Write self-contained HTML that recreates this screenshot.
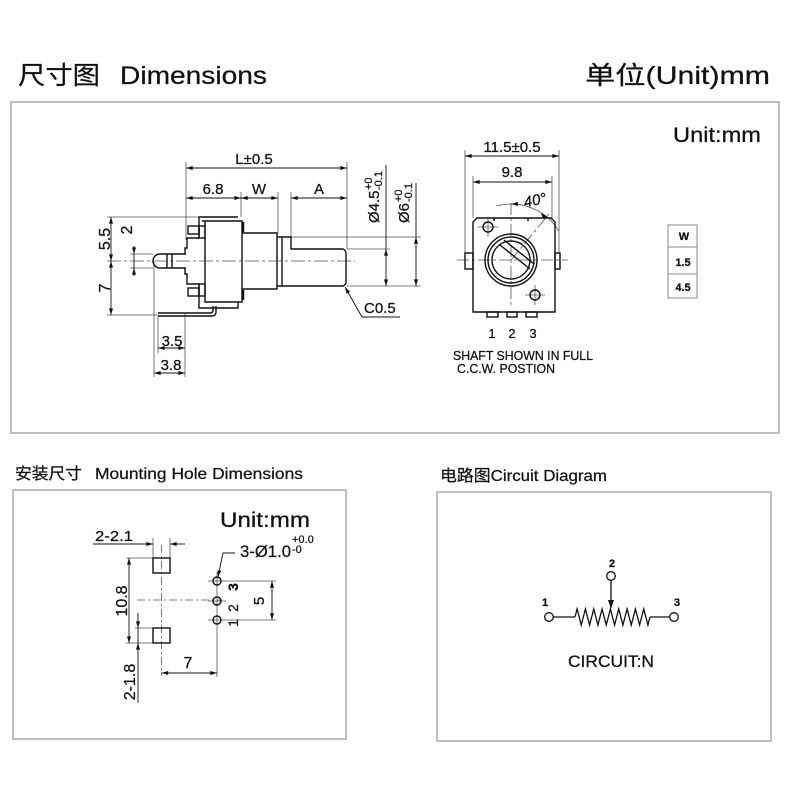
<!DOCTYPE html>
<html><head><meta charset="utf-8">
<style>
html,body{margin:0;padding:0;background:#fff;}
svg{display:block;}
text{font-family:"Liberation Sans","Noto Sans CJK SC",sans-serif;fill:#111;stroke:#111;stroke-width:0.25;}
</style></head><body>
<svg width="790" height="793" viewBox="0 0 790 793" xmlns="http://www.w3.org/2000/svg">
<defs>
<marker id="a" viewBox="0 0 10 6" refX="10" refY="3" markerWidth="7" markerHeight="4" markerUnits="userSpaceOnUse" orient="auto-start-reverse"><path d="M0,0 L10,3 L0,6 Z" fill="#111"/></marker>
</defs>

<!-- Header -->
<text x="18" y="84" font-size="25" textLength="82" lengthAdjust="spacingAndGlyphs">尺寸图</text>
<text x="120" y="84" font-size="25" textLength="147" lengthAdjust="spacingAndGlyphs">Dimensions</text>
<text x="585" y="84" font-size="25" textLength="185" lengthAdjust="spacingAndGlyphs">单位(Unit)mm</text>

<!-- Top panel -->
<rect x="11" y="102" width="768" height="331" fill="none" stroke="#aaa" stroke-width="1.5"/>
<text x="673" y="142" font-size="21" textLength="88" lengthAdjust="spacingAndGlyphs">Unit:mm</text>

<!-- Table -->
<g fill="none" stroke="#888" stroke-width="1">
<rect x="668" y="225" width="29" height="73"/>
<line x1="668" y1="247" x2="697" y2="247"/>
<line x1="668" y1="274" x2="697" y2="274"/>
</g>
<text x="684" y="240" font-size="11" font-weight="bold" text-anchor="middle">W</text>
<text x="683" y="266" font-size="11" font-weight="bold" text-anchor="middle">1.5</text>
<text x="683" y="291" font-size="11" font-weight="bold" text-anchor="middle">4.5</text>

<!-- Left side view: extension lines -->
<g stroke="#555" stroke-width="0.8" fill="none">
<line x1="186" y1="162" x2="186" y2="240"/>
<line x1="241" y1="192" x2="241" y2="217"/>
<line x1="278" y1="192" x2="278" y2="233"/>
<line x1="291" y1="192" x2="291" y2="237"/>
<line x1="347" y1="162" x2="347" y2="249"/>
<line x1="291" y1="237" x2="421" y2="237"/>
<line x1="347" y1="249" x2="390" y2="249"/>
<line x1="347" y1="286" x2="421" y2="286"/>
<line x1="107" y1="217" x2="199" y2="217"/>
<line x1="107" y1="315" x2="158" y2="315"/>
<line x1="130" y1="254" x2="153" y2="254"/>
<line x1="130" y1="268" x2="153" y2="268"/>
<line x1="154" y1="262" x2="154" y2="377"/>
<line x1="158" y1="316" x2="158" y2="353"/>
<line x1="185" y1="313" x2="185" y2="377"/>
<line x1="107" y1="261" x2="355" y2="261" stroke-dasharray="14 3 3 3"/>
</g>

<!-- Left side view: dimension lines -->
<g stroke="#111" stroke-width="0.9" fill="none">
<line x1="186" y1="168" x2="347" y2="168" marker-start="url(#a)" marker-end="url(#a)"/>
<line x1="186" y1="198" x2="241" y2="198" marker-start="url(#a)" marker-end="url(#a)"/>
<line x1="241" y1="198" x2="278" y2="198" marker-start="url(#a)" marker-end="url(#a)"/>
<line x1="291" y1="198" x2="347" y2="198" marker-start="url(#a)" marker-end="url(#a)"/>
<line x1="386" y1="165" x2="386" y2="249"/>
<line x1="386" y1="249" x2="386" y2="286" marker-start="url(#a)" marker-end="url(#a)"/>
<line x1="416" y1="183" x2="416" y2="237"/>
<line x1="416" y1="237" x2="416" y2="286" marker-start="url(#a)" marker-end="url(#a)"/>
<line x1="111" y1="217" x2="111" y2="261" marker-start="url(#a)" marker-end="url(#a)"/>
<line x1="111" y1="261" x2="111" y2="315" marker-start="url(#a)" marker-end="url(#a)"/>
<line x1="134" y1="246" x2="134" y2="254" marker-end="url(#a)"/>
<line x1="134" y1="254" x2="134" y2="268"/>
<line x1="134" y1="276" x2="134" y2="268" marker-end="url(#a)"/>
<line x1="158" y1="348" x2="185" y2="348" marker-start="url(#a)" marker-end="url(#a)"/>
<line x1="154" y1="373" x2="185" y2="373" marker-start="url(#a)" marker-end="url(#a)"/>
<polyline points="400,317 362,317 345,287" marker-end="url(#a)"/>
</g>

<!-- Left side view: dimension text -->
<text x="254" y="164" font-size="15" text-anchor="middle">L±0.5</text>
<text x="213" y="194" font-size="15" text-anchor="middle">6.8</text>
<text x="259" y="194" font-size="15" text-anchor="middle">W</text>
<text x="319" y="194" font-size="15" text-anchor="middle">A</text>
<text x="364" y="313" font-size="15">C0.5</text>
<text transform="translate(110,239) rotate(-90)" font-size="16" text-anchor="middle">5.5</text>
<text transform="translate(132,230) rotate(-90)" font-size="16" text-anchor="middle">2</text>
<text transform="translate(110,288) rotate(-90)" font-size="16" text-anchor="middle">7</text>
<text x="172" y="346" font-size="15" text-anchor="middle">3.5</text>
<text x="171" y="370" font-size="15" text-anchor="middle">3.8</text>
<g transform="translate(379,223) rotate(-90)">
<text x="0" y="0" font-size="15">Ø4.5</text>
<text x="33" y="-7" font-size="11">+0</text>
<text x="33" y="3" font-size="11">-0.1</text>
</g>
<g transform="translate(409,223) rotate(-90)">
<text x="0" y="0" font-size="15">Ø6</text>
<text x="21" y="-7" font-size="11">+0</text>
<text x="21" y="3" font-size="11">-0.1</text>
</g>

<!-- Left side view: part outline -->
<g stroke="#111" stroke-width="1.4" fill="none">
<path d="M186,254 H160 A7,7 0 0 0 160,268 H186"/>
<line x1="167" y1="254" x2="167" y2="268"/>
<line x1="172" y1="254" x2="172" y2="268"/>
<path d="M238,217 H199 V238 H187 V248 H185 V254"/>
<path d="M185,268 V274 H187 V284 H199 V308 H238 V302"/>
<rect x="188" y="226" width="11" height="8"/>
<rect x="199" y="226" width="6" height="12"/>
<rect x="188" y="288" width="11" height="8"/>
<rect x="199" y="284" width="6" height="12"/>
<path d="M202,221 H242 V302 H205 V221"/>
<path d="M158,313 H210 Q213,313 213,310 V306"/>
<path d="M158,316 H212 Q216,316 216,312 V306"/>
<path d="M242,233 H277 V289 H242"/>
<path d="M277,237 H291 V249 H343 Q346,250 346,254 V282 Q346,285 343,286 H277"/>
<line x1="282" y1="237" x2="282" y2="286"/>
</g>
<g stroke="#111" stroke-width="2.5">
<line x1="243" y1="222" x2="243" y2="232"/>
<line x1="243" y1="290" x2="243" y2="300"/>
</g>

<!-- Front view -->
<g stroke="#555" stroke-width="0.8" fill="none">
<line x1="465" y1="150" x2="465" y2="253"/>
<line x1="559" y1="150" x2="559" y2="253"/>
<line x1="473" y1="176" x2="473" y2="218"/>
<line x1="552" y1="176" x2="552" y2="218"/>
<line x1="511" y1="203" x2="511" y2="305" stroke-dasharray="12 3 3 3"/>
<line x1="457" y1="260" x2="568" y2="260" stroke-dasharray="12 3 3 3"/>
<line x1="511" y1="260" x2="549" y2="214" stroke-dasharray="12 3 3 3"/>
<path d="M496.5,205.9 A56,56 0 0 1 559,231.2"/>
<line x1="478" y1="227" x2="498" y2="227"/>
<line x1="488" y1="217" x2="488" y2="237"/>
<line x1="525" y1="295" x2="545" y2="295"/>
<line x1="535" y1="285" x2="535" y2="305"/>
</g>
<g stroke="#111" stroke-width="0.9" fill="none">
<line x1="465" y1="156" x2="559" y2="156" marker-start="url(#a)" marker-end="url(#a)"/>
<line x1="473" y1="182" x2="552" y2="182" marker-start="url(#a)" marker-end="url(#a)"/>
</g>
<path d="M548,217 L541,213 L543,219 Z" fill="#111"/>
<path d="M511,204 L518,202 L518,206 Z" fill="#111"/>
<text x="512" y="152" font-size="15" text-anchor="middle">11.5±0.5</text>
<text x="512" y="177" font-size="15" text-anchor="middle">9.8</text>
<text transform="translate(536,205) rotate(-12)" font-size="15" font-style="italic" text-anchor="middle">40°</text>
<g stroke="#111" stroke-width="1.4" fill="none">
<path d="M473,312 V222 L477,218 H551 L555,222 V312 Z"/>
<rect x="465" y="253" width="8" height="16"/>
<rect x="555" y="253" width="5" height="16"/>
<circle cx="511" cy="260" r="26"/>
<circle cx="511" cy="260" r="23"/>
<circle cx="511" cy="260" r="19"/>
<line x1="504" y1="240" x2="534" y2="264"/>
<line x1="500" y1="245" x2="530" y2="269"/>
<circle cx="488" cy="227" r="5"/>
<circle cx="535" cy="295" r="5"/>
<rect x="487" y="312" width="11" height="5"/>
<rect x="507" y="312" width="10" height="5"/>
<rect x="526" y="312" width="11" height="5"/>
</g>
<g stroke="#111" stroke-width="1.5">
<line x1="494" y1="218" x2="494" y2="221"/>
<line x1="528" y1="218" x2="528" y2="221"/>
</g>
<text x="492" y="338" font-size="13" text-anchor="middle">1</text>
<text x="512" y="338" font-size="13" text-anchor="middle">2</text>
<text x="533" y="338" font-size="13" text-anchor="middle">3</text>
<text x="453" y="360" font-size="12.5" textLength="140" lengthAdjust="spacingAndGlyphs">SHAFT SHOWN IN FULL</text>
<text x="457" y="373" font-size="12.5" textLength="98" lengthAdjust="spacingAndGlyphs">C.C.W. POSTION</text>

<!-- Mounting panel -->
<text x="15" y="479" font-size="16" textLength="67" lengthAdjust="spacingAndGlyphs">安装尺寸</text>
<text x="95" y="479" font-size="16" textLength="208" lengthAdjust="spacingAndGlyphs">Mounting Hole Dimensions</text>
<rect x="13" y="490" width="333" height="249" fill="none" stroke="#aaa" stroke-width="1.5"/>
<text x="220" y="527" font-size="21" textLength="90" lengthAdjust="spacingAndGlyphs">Unit:mm</text>

<g stroke="#555" stroke-width="0.8" fill="none">
<line x1="153" y1="538" x2="153" y2="558"/>
<line x1="170" y1="538" x2="170" y2="558"/>
<line x1="126" y1="558" x2="153" y2="558"/>
<line x1="126" y1="643" x2="153" y2="643"/>
<line x1="135" y1="628" x2="153" y2="628"/>
<line x1="161.5" y1="545" x2="161.5" y2="676" stroke-dasharray="8 3 2 3"/>
<line x1="137" y1="600" x2="222" y2="600" stroke-dasharray="8 3 2 3"/>
<line x1="217" y1="572" x2="217" y2="677"/>
<line x1="208" y1="581" x2="276" y2="581"/>
<line x1="208" y1="601" x2="226" y2="601"/>
<line x1="208" y1="620" x2="276" y2="620"/>
</g>
<g stroke="#111" stroke-width="0.9" fill="none">
<line x1="93" y1="544" x2="153" y2="544" marker-end="url(#a)"/>
<line x1="185" y1="544" x2="170" y2="544" marker-end="url(#a)"/>
<line x1="129" y1="558" x2="129" y2="643" marker-start="url(#a)" marker-end="url(#a)"/>
<line x1="138" y1="613" x2="138" y2="628" marker-end="url(#a)"/>
<line x1="138" y1="628" x2="138" y2="643"/>
<line x1="138" y1="703" x2="138" y2="643" marker-end="url(#a)"/>
<line x1="272" y1="581" x2="272" y2="620" marker-start="url(#a)" marker-end="url(#a)"/>
<line x1="161.5" y1="673" x2="217" y2="673" marker-start="url(#a)" marker-end="url(#a)"/>
<polyline points="235,553 223,553 218,577" marker-end="url(#a)"/>
</g>
<g stroke="#111" stroke-width="1.4" fill="none">
<rect x="153" y="558" width="17" height="15"/>
<rect x="153" y="628" width="17" height="15"/>
<circle cx="217" cy="581" r="4"/>
<circle cx="217" cy="601" r="4"/>
<circle cx="217" cy="620" r="4"/>
</g>
<text x="95" y="541" font-size="15" textLength="38" lengthAdjust="spacingAndGlyphs">2-2.1</text>
<text transform="translate(127,601) rotate(-90)" font-size="16" text-anchor="middle">10.8</text>
<text transform="translate(135,682) rotate(-90)" font-size="16" text-anchor="middle">2-1.8</text>
<text transform="translate(238,587) rotate(-90)" font-size="14" font-weight="bold" text-anchor="middle">3</text>
<text transform="translate(238,608) rotate(-90)" font-size="14" text-anchor="middle">2</text>
<text transform="translate(238,623) rotate(-90)" font-size="14" text-anchor="middle">1</text>
<text transform="translate(264,601) rotate(-90)" font-size="15" text-anchor="middle">5</text>
<text x="188" y="668" font-size="16" text-anchor="middle">7</text>
<text x="240" y="557" font-size="17" textLength="51" lengthAdjust="spacingAndGlyphs">3-Ø1.0</text>
<text x="292" y="543" font-size="11">+0.0</text>
<text x="292" y="553" font-size="11">-0</text>

<!-- Circuit panel -->
<text x="440" y="481" font-size="16" textLength="167" lengthAdjust="spacingAndGlyphs">电路图Circuit Diagram</text>
<rect x="437" y="492" width="334" height="249" fill="none" stroke="#aaa" stroke-width="1.5"/>
<g stroke="#111" stroke-width="1.3" fill="none">
<circle cx="549" cy="617" r="4.3"/>
<circle cx="674" cy="617" r="4.3"/>
<circle cx="611" cy="576" r="4.3"/>
<line x1="553" y1="617" x2="575" y2="617"/>
<polyline points="575,617 577.08,609 581.25,625 585.42,609 589.58,625 593.75,609 597.92,625 602.08,609 606.25,625 610.42,609 614.58,625 618.75,609 622.92,625 627.08,609 631.25,625 635.42,609 639.58,625 643.75,609 647.92,625 650,617"/>
<line x1="650" y1="617" x2="670" y2="617"/>
<line x1="611" y1="580" x2="611" y2="602"/>
</g>
<path d="M611,609 L608,600 L614,600 Z" fill="#111"/>
<text x="545" y="606" font-size="11" font-weight="bold" text-anchor="middle">1</text>
<text x="677" y="606" font-size="11" font-weight="bold" text-anchor="middle">3</text>
<text x="612" y="567" font-size="11" font-weight="bold" text-anchor="middle">2</text>
<text x="611" y="667" font-size="17" text-anchor="middle" textLength="86" lengthAdjust="spacingAndGlyphs">CIRCUIT:N</text>
</svg>
</body></html>
